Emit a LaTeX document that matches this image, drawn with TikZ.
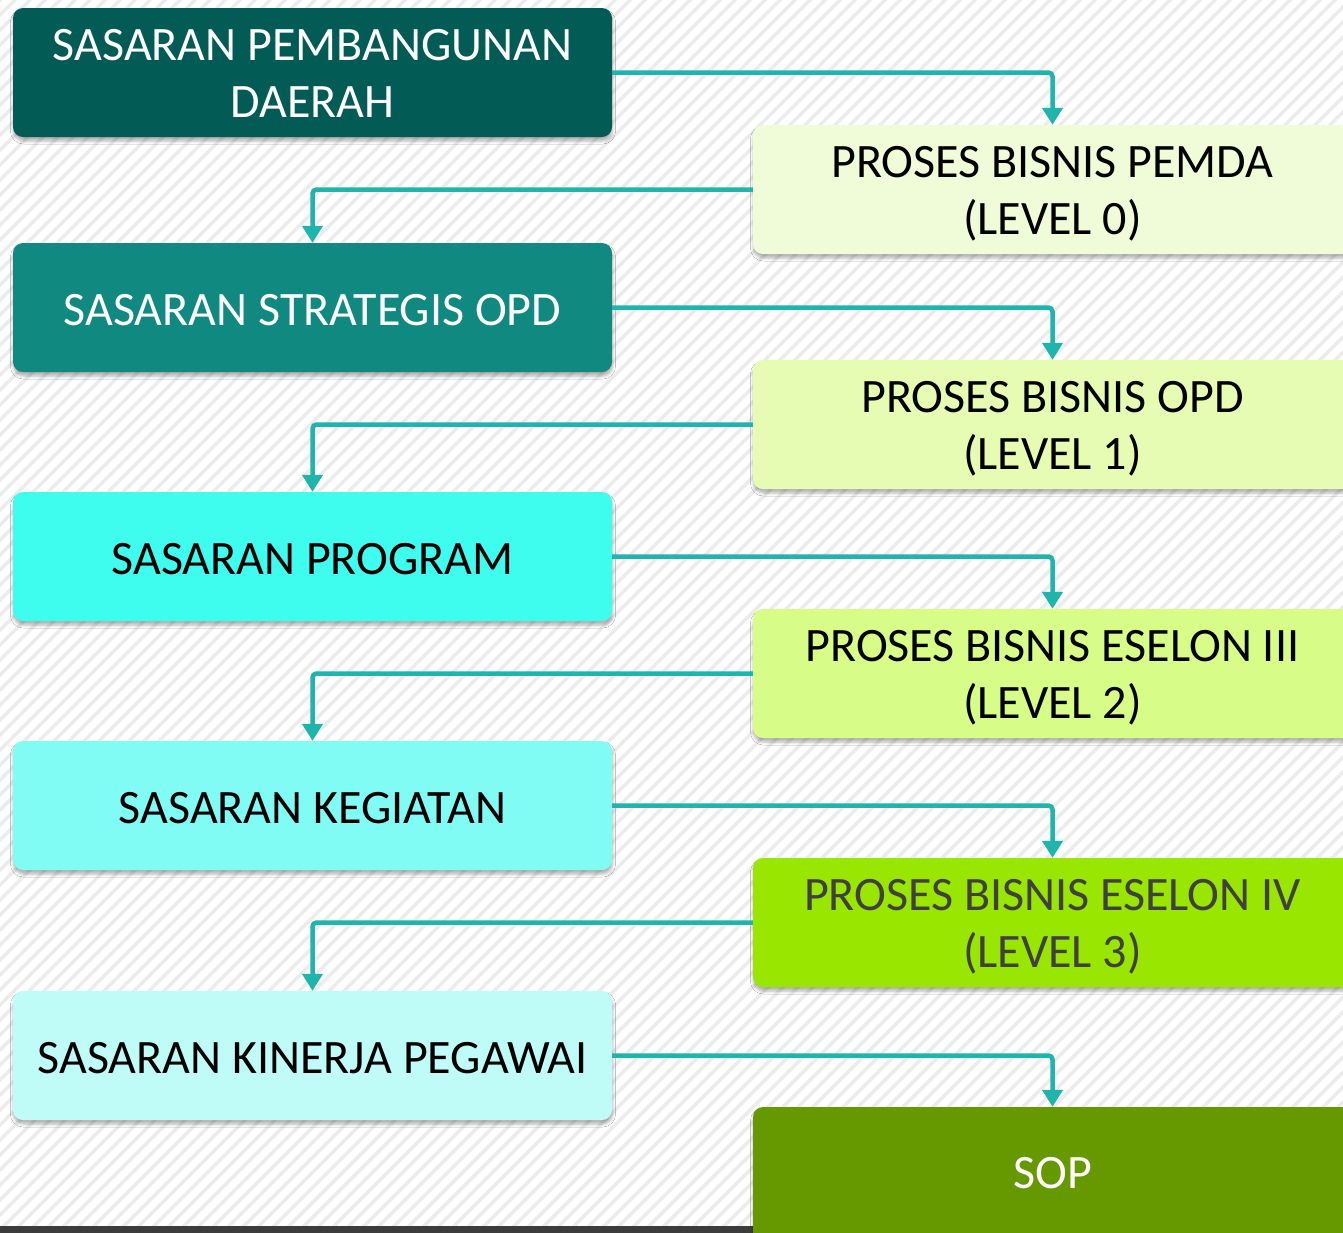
\documentclass[tikz,border=0pt]{standalone}
\usepackage{fontspec}
\setmainfont{Carlito}
\usetikzlibrary{arrows.meta,shadows.blur}
\definecolor{cL1}{RGB}{2,92,85}
\definecolor{cL2}{RGB}{16,138,128}
\definecolor{cL3}{RGB}{63,253,238}
\definecolor{cL4}{RGB}{128,252,244}
\definecolor{cL5}{RGB}{191,252,248}
\definecolor{cR1}{RGB}{240,252,216}
\definecolor{cR2}{RGB}{229,252,178}
\definecolor{cR3}{RGB}{215,252,135}
\definecolor{cR4}{RGB}{153,230,0}
\definecolor{cR5}{RGB}{102,153,0}
\definecolor{conncol}{RGB}{31,181,172}
\definecolor{stripecol}{RGB}{236,236,236}
\definecolor{barcol}{RGB}{60,60,60}
\definecolor{darktext}{RGB}{64,64,64}
\newcommand\bxtext[2]{\raisebox{0pt}[\dimexpr\height+#1\relax][\depth]{\begin{tabular}{@{}c@{}}#2\end{tabular}}}
\tikzset{
  box/.style={rectangle, rounded corners=10pt, minimum width=599pt, minimum height=129pt,
    inner sep=0pt, font=\fontsize{48}{57}\selectfont,
    blur shadow={shadow xshift=0.5pt, shadow yshift=-4pt, shadow blur radius=3pt, shadow opacity=30}},
  conn/.style={draw=conncol, line width=4.5pt, rounded corners=4pt,
    -{Triangle[width=20pt,length=17pt]}}
}
\begin{document}
\begin{tikzpicture}[x=1pt,y=-1pt]
\useasboundingbox (0,0) rectangle (1343,1232);
\clip (0,0) rectangle (1343,1232);
\fill[white] (0,0) rectangle (1343,1232);
\foreach \i in {-1300,-1285,...,1400} {
  \draw[stripecol, line width=3.5pt] (\i,1240) -- ++(1250,-1250);
}
\fill[barcol] (0,1226) rectangle (800,1240);
% left column
\node[box, fill=cL1, text=white] (l1) at (312.5,72.5) {\bxtext{10pt}{SASARAN PEMBANGUNAN\\DAERAH}};
\node[box, fill=cL2, text=white] (l2) at (312.5,307.5) {\bxtext{13pt}{SASARAN STRATEGIS OPD}};
\node[box, fill=cL3, text=black] (l3) at (312.5,556.5) {\bxtext{13pt}{SASARAN PROGRAM}};
\node[box, fill=cL4, text=black] (l4) at (312.5,805.5) {\bxtext{13pt}{SASARAN KEGIATAN}};
\node[box, fill=cL5, text=black] (l5) at (312.5,1055.5) {\bxtext{13pt}{SASARAN KINERJA PEGAWAI}};
% right column
\node[box, fill=cR1, text=black] (r1) at (1052.5,189.5) {\bxtext{10pt}{PROSES BISNIS PEMDA\\(LEVEL 0)}};
\node[box, fill=cR2, text=black] (r2) at (1052.5,424.5) {\bxtext{10pt}{PROSES BISNIS OPD\\(LEVEL 1)}};
\node[box, fill=cR3, text=black] (r3) at (1052.5,673.5) {\bxtext{10pt}{PROSES BISNIS ESELON III\\(LEVEL 2)}};
\node[box, fill=cR4, text=darktext] (r4) at (1052.5,922.5) {\bxtext{10pt}{PROSES BISNIS ESELON IV\\(LEVEL 3)}};
\node[box, fill=cR5, text=white, minimum height=140pt] (r5) at (1052.5,1177) {\bxtext{0pt}{SOP}};
% connectors
\draw[conn] (l1.east) -| (r1.north);
\draw[conn] (r1.west) -| (l2.north);
\draw[conn] (l2.east) -| (r2.north);
\draw[conn] (r2.west) -| (l3.north);
\draw[conn] (l3.east) -| (r3.north);
\draw[conn] (r3.west) -| (l4.north);
\draw[conn] (l4.east) -| (r4.north);
\draw[conn] (r4.west) -| (l5.north);
\draw[conn] (l5.east) -| (r5.north);
\end{tikzpicture}
\end{document}
